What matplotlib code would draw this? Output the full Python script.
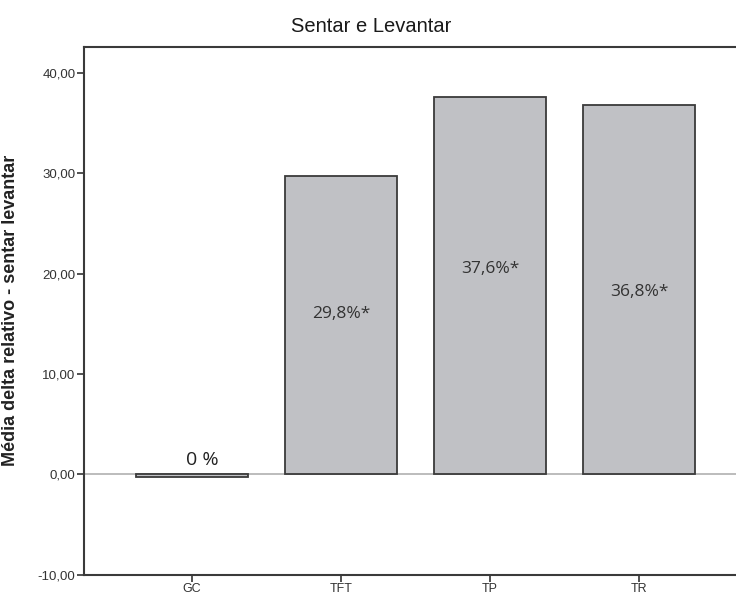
import matplotlib.pyplot as plt
from matplotlib import font_manager

groups = ["GC", "TFT", "TP", "TR"]
media_delta = [-0.3, 29.7, 37.6, 36.8]
rotulos = ["0 %", "29,8%*", "37,6%*", "36,8%*"]
rotulo_y = [0.5, 16.0, 20.5, 18.2]
y_ticks = [-10, 0, 10, 20, 30, 40]
y_tick_labels = ["-10,00", "0,00", "10,00", "20,00", "30,00", "40,00"]

names = {f.name for f in font_manager.fontManager.ttflist}
narrow = "Liberation Sans Narrow" if "Liberation Sans Narrow" in names else "Liberation Sans"

fig = plt.figure(figsize=(7.36, 5.97), dpi=100)
ax = fig.add_axes([0.114, 0.0374, 0.886, 0.8844])

x = list(range(len(groups)))
ax.axhline(0, color="#b0b0b0", linewidth=1.2, zorder=1)
ax.bar(x, media_delta, width=0.755, color="#c0c1c5", edgecolor="#3a3a3a",
       linewidth=1.3, zorder=2)

for i, (lab, ly) in enumerate(zip(rotulos, rotulo_y)):
    if i == 0:
        ax.text(i + 0.07, ly, lab, ha="center", va="bottom", fontsize=14,
                family="Open Sans", color="#222222", zorder=3)
    else:
        ax.text(i, ly, lab, ha="center", va="center", fontsize=12.5,
                family="Open Sans", color="#333333", zorder=3)

ax.set_xlim(-0.725, 3.65)
ax.set_ylim(-10, 42.6)
ax.set_xticks(x)
ax.set_xticklabels(groups, family=narrow, fontsize=9, color="#333333")
ax.set_yticks(y_ticks)
ax.set_yticklabels(y_tick_labels, family=narrow, fontsize=9.5, color="#333333")
ax.tick_params(axis="both", direction="out", length=5, width=1.2, color="#333333", pad=1)

for side in ["left", "bottom", "top"]:
    ax.spines[side].set_color("#3a3a3a")
    ax.spines[side].set_linewidth(1.5)
ax.spines["right"].set_visible(False)

# y label placed in figure coords so it sits close to the left edge
fig.text(0.0145, 0.48, "Média delta relativo - sentar levantar", rotation=90,
         ha="center", va="center", family=narrow, fontsize=13,
         fontweight="bold", color="#222222")
fig.text(0.505, 0.955, "Sentar e Levantar", ha="center", va="center",
         family=narrow, fontsize=14.5, color="#1a1a1a")

fig.savefig("out.png", dpi=100)
